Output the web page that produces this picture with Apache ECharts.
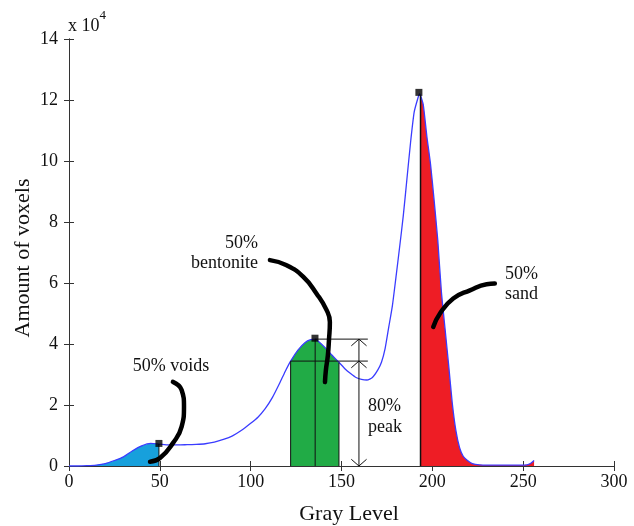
<!DOCTYPE html>
<html>
<head>
<meta charset="utf-8">
<script src="https://cdn.jsdelivr.net/npm/echarts@6/dist/echarts.min.js"></script>
<style>
  html, body { margin: 0; padding: 0; background: #fff; }
  #chart { width: 634px; height: 526px; }
</style>
</head>
<body>
<div id="chart"></div>
<script>
// histogram of gray levels (y in units of 10^4 voxels)
var grayLevel = [0, 5, 10, 15, 20, 25, 30, 35, 40, 45, 49.5, 55, 60, 65, 70, 75, 80, 85, 90, 95,
  100, 104, 108, 112, 116, 119, 122, 126, 130, 133, 135.5, 138, 141, 144, 148.6, 152, 155, 158, 161, 164, 167,
  170, 172, 174, 176, 178, 180, 182, 184, 186, 188, 190, 192, 193, 193.5, 195, 197, 199, 201, 203, 205,
  207, 209, 211, 213, 215, 217, 219, 222, 226, 235, 245, 252, 254, 256];
var voxels = [0, 0, 0.01, 0.03, 0.08, 0.18, 0.3, 0.5, 0.66, 0.74, 0.72, 0.69, 0.69, 0.7, 0.71, 0.73, 0.78, 0.87, 0.99, 1.17,
  1.4, 1.6, 1.88, 2.25, 2.72, 3.1, 3.44, 3.8, 4.05, 4.14, 4.16, 4.05, 3.88, 3.68, 3.4, 3.18, 3.03, 2.9, 2.84, 2.82, 2.9,
  3.15, 3.4, 3.85, 4.55, 5.25, 6.2, 7.18, 8.2, 9.4, 10.6, 11.6, 12.05, 12.2, 12.15, 11.85, 10.8, 9.9, 8.7, 7.4, 5.7,
  4.5, 3.3, 2.05, 1.15, 0.6, 0.32, 0.2, 0.08, 0.04, 0.03, 0.03, 0.04, 0.08, 0.18];

// picked points (black squares)
var peakX = [49.5, 135.4, 192.6];
var peakY = [0.74, 4.19, 12.25];

// region limits
var voidsCut = 49.5;
var bentoLeft = 122, bentoRight = 148.6, bentoMid = 135.5;
var bentoPeak = 4.16, bento80 = 3.44;
var sandCut = 193.5;
var arrowX = 159.6, guideEnd = 164.5;

// hand drawn leaders
var voidsLeader = [[44.6, 0.14], [50.1, 0.26], [57.2, 0.75], [62, 1.29], [63.3, 1.94], [62, 2.49], [57.2, 2.76]];
var bentoLeader = [[110.6, 6.75], [119.8, 6.58], [129, 6.2], [136.3, 5.65], [141.8, 5.11], [143.6, 4.72],
  [143.1, 4.13], [142.5, 3.63], [141.4, 3.14], [140.9, 2.75]];
var sandLeader = [[200.5, 4.56], [204.2, 5.0], [211.5, 5.49], [220.7, 5.76], [229.9, 5.96], [234.4, 5.98]];

function pts(a, b) {
  var out = [];
  grayLevel.forEach(function (x, i) {
    if (x >= a && x <= b) out.push([x, voxels[i]]);
  });
  return out;
}
function valAt(x) {
  var i = grayLevel.indexOf(x);
  return voxels[i];
}

var serif = '"Liberation Serif", "Times New Roman", serif';
var ink = '#000';

function thin(data, w) {
  return {
    type: 'line', data: data, symbol: 'none', silent: true,
    lineStyle: { color: '#111', width: w || 1 }, z: 4
  };
}
function fill(data, color) {
  return {
    type: 'line', data: data, symbol: 'none', smooth: 0.2, silent: true,
    lineStyle: { width: 0 }, areaStyle: { color: color, opacity: 1 }, z: 2
  };
}
function leader(data) {
  return {
    type: 'line', data: data, symbol: 'none', smooth: 0.5, silent: true,
    lineStyle: { color: ink, width: 4.5, cap: 'round', join: 'round' }, z: 6
  };
}
// open chevron head, dx/dy in axis units
function chevron(x, y, up) {
  var dy = up ? -0.22 : 0.22;
  return thin([[x - 4.2, y + dy], [x, y], [x + 4.2, y + dy]]);
}

var chart = echarts.init(document.getElementById('chart'));

var tickStyle = { inside: true, length: 5, lineStyle: { color: '#333' } };
var lineStyleAx = { lineStyle: { color: '#333', width: 1 } };

var option = {
  animation: false,
  grid: { left: 69, right: 20, top: 39, bottom: 60 },
  xAxis: [{
    type: 'value', min: 0, max: 300, interval: 50,
    axisLine: lineStyleAx, axisTick: tickStyle, splitLine: { show: false },
    axisLabel: { fontFamily: serif, fontSize: 18, color: '#111', margin: 7 }
  }, {
    type: 'value', position: 'top', min: 0, max: 300, interval: 50,
    axisLine: lineStyleAx, axisTick: tickStyle, splitLine: { show: false },
    axisLabel: { show: false }
  }],
  yAxis: [{
    type: 'value', min: 0, max: 14, interval: 2,
    axisLine: { show: true, lineStyle: { color: '#333', width: 1 } },
    axisTick: tickStyle, splitLine: { show: false },
    axisLabel: { fontFamily: serif, fontSize: 18, color: '#111', margin: 11 }
  }, {
    type: 'value', position: 'right', min: 0, max: 14, interval: 2,
    axisLine: { show: true, lineStyle: { color: '#333', width: 1 } },
    axisTick: tickStyle, splitLine: { show: false },
    axisLabel: { show: false }
  }],
  series: [
    fill(pts(0, voidsCut), '#17a0dc'),
    fill(pts(bentoLeft, bentoRight), '#21ab46'),
    fill(pts(sandCut, 999), '#ee1d25'),
    {
      type: 'line', data: grayLevel.map(function (x, i) { return [x, voxels[i]]; }),
      symbol: 'none', smooth: 0.2, silent: true,
      lineStyle: { color: '#3a3cff', width: 1.3 }, z: 3
    },
    // region edges and guides
    thin([[bentoLeft, 0], [bentoLeft, valAt(bentoLeft)]]),
    thin([[bentoRight, 0], [bentoRight, valAt(bentoRight)]]),
    thin([[bentoMid, 0], [bentoMid, bentoPeak]]),
    thin([[bentoLeft, bento80], [guideEnd, bento80]]),
    thin([[bentoMid, bentoPeak], [guideEnd, bentoPeak]]),
    thin([[sandCut, 0], [sandCut, valAt(sandCut)]], 1.5),
    thin([[voidsCut, 0], [voidsCut, valAt(voidsCut)]]),
    // 80% peak arrow
    thin([[arrowX, 0], [arrowX, bentoPeak]]),
    chevron(arrowX, bentoPeak, true),
    chevron(arrowX, bento80, true),
    chevron(arrowX, 0, false),
    leader(voidsLeader),
    leader(bentoLeader),
    leader(sandLeader),
    {
      type: 'scatter', symbol: 'rect', symbolSize: 7, silent: true, z: 7,
      itemStyle: { color: ink },
      data: peakX.map(function (x, i) { return [x, peakY[i]]; })
    }
  ],
  graphic: [
    {
      type: 'text', left: 68, top: 9,
      style: {
        text: '{a|x 10}{b|4}', fontFamily: serif, fill: '#111',
        rich: {
          a: { fontSize: 18, fontFamily: serif, padding: [8, 0, 0, 0] },
          b: { fontSize: 13, fontFamily: serif, verticalAlign: 'top' }
        }
      }
    },
    {
      type: 'text', x: 349, y: 514,
      style: { text: 'Gray Level', fontFamily: serif, fontSize: 22, fill: '#111', align: 'center', verticalAlign: 'middle' }
    },
    {
      type: 'text', x: 23, y: 258, rotation: Math.PI / 2,
      style: { text: 'Amount of voxels', fontFamily: serif, fontSize: 22, fill: '#111', align: 'center', verticalAlign: 'middle' }
    },
    {
      type: 'text', x: 171, y: 366,
      style: { text: '50% voids', fontFamily: serif, fontSize: 18, fill: '#111', align: 'center', verticalAlign: 'middle' }
    },
    {
      type: 'text', x: 258, y: 253,
      style: { text: '50%\nbentonite', fontFamily: serif, fontSize: 18, lineHeight: 20, fill: '#111', align: 'right', verticalAlign: 'middle' }
    },
    {
      type: 'text', x: 505, y: 284,
      style: { text: '50%\nsand', fontFamily: serif, fontSize: 18, lineHeight: 20, fill: '#111', align: 'left', verticalAlign: 'middle' }
    },
    {
      type: 'text', x: 368, y: 417,
      style: { text: '80%\npeak', fontFamily: serif, fontSize: 18, lineHeight: 21, fill: '#111', align: 'left', verticalAlign: 'middle' }
    }
  ]
};

chart.setOption(option);
</script>
</body>
</html>
